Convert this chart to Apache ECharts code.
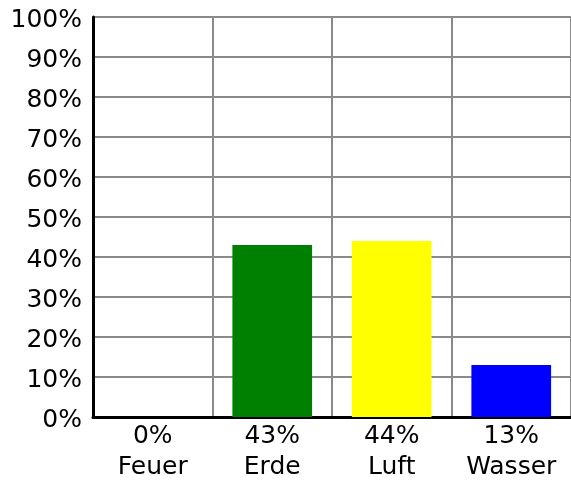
<!DOCTYPE html>
<html><head><meta charset="utf-8">
<script src="https://cdn.jsdelivr.net/npm/echarts@6/dist/echarts.min.js"></script>
<style>html,body{margin:0;padding:0;background:#fff}#c{width:571px;height:486px}</style>
</head><body><div id="c"></div>
<script>
const categories = ['Feuer', 'Erde', 'Luft', 'Wasser'];
const values = [0, 43, 44, 13];
const colors = ['#ff0000', '#008000', '#ffff00', '#0000ff'];
const yTicks = [0, 10, 20, 30, 40, 50, 60, 70, 80, 90, 100];
const FONT = '"DejaVu Sans", sans-serif';

const chart = echarts.init(document.getElementById('c'), null, {renderer: 'canvas'});
chart.setOption({
  animation: false,
  backgroundColor: '#fff',
  grid: {left: 93, right: -2, top: 17, bottom: 69, containLabel: false},
  xAxis: {
    type: 'category',
    data: categories,
    boundaryGap: true,
    axisLine: {show: true, lineStyle: {color: '#000', width: 3}},
    axisTick: {show: false},
    splitLine: {show: true, lineStyle: {color: '#8a8a8a', width: 2}},
    axisLabel: {
      interval: 0,
      margin: 4,
      fontFamily: FONT,
      fontSize: 25,
      color: '#000',
      lineHeight: 31,
      formatter: (v, i) => values[i] + '%\n' + v
    }
  },
  yAxis: {
    type: 'value',
    min: 0, max: 100, interval: 10,
    axisLine: {show: true, lineStyle: {color: '#000', width: 3}},
    axisTick: {show: false},
    splitLine: {show: true, lineStyle: {color: '#8a8a8a', width: 2}},
    axisLabel: {
      margin: 11,
      fontFamily: FONT,
      fontSize: 25,
      color: '#000',
      formatter: v => '{a|' + v + '%}',
      rich: {a: {fontFamily: FONT, fontSize: 25, color: '#000', padding: [6, 0, 0, 0]}}
    }
  },
  series: [{
    type: 'bar',
    data: values.map((v, i) => ({value: v, itemStyle: {color: colors[i]}})),
    barWidth: '66.7%'
  }]
});
</script></body></html>
